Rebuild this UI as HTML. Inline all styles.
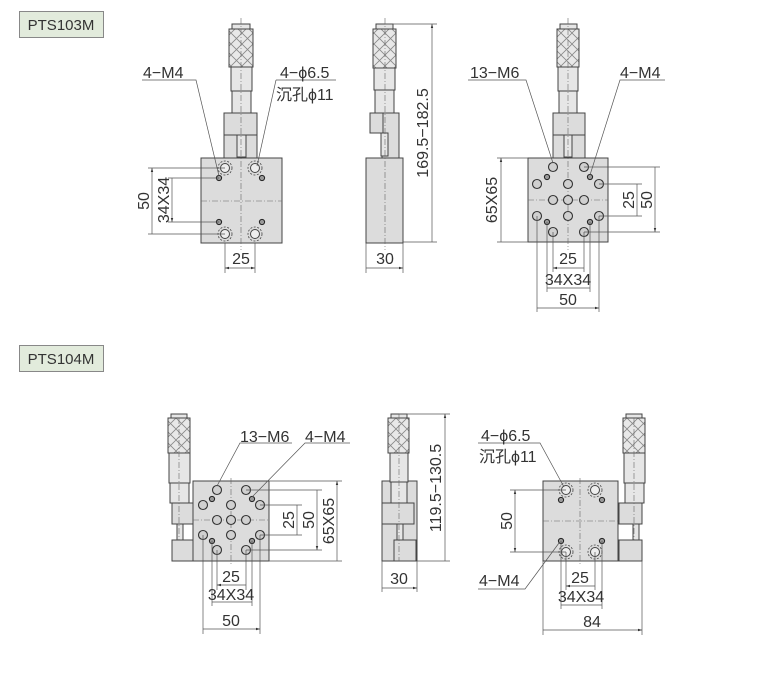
<!DOCTYPE html>
<html><head><meta charset="utf-8"><style>
html,body{margin:0;padding:0;background:#fff;}
svg{display:block;}
text{font-family:"Liberation Sans","Noto Sans CJK SC",sans-serif;fill:#333;}
</style></head><body>
<svg width="763" height="674" viewBox="0 0 763 674" xmlns="http://www.w3.org/2000/svg">
<defs>
<pattern id="kn" x="0" y="0" width="11" height="11" patternUnits="userSpaceOnUse">
<rect width="11" height="11" fill="#e8e8e8"/>
<path d="M0 0L11 11M11 0L0 11" stroke="#888" stroke-width="0.8"/>
</pattern>
<marker id="a" viewBox="0 0 10 10" refX="10" refY="5" markerWidth="6" markerHeight="6" orient="auto-start-reverse"><path d="M0 2L10 5L0 8z" fill="#333"/></marker>
<g id="cb">
<circle cx="0" cy="0" r="7" fill="none" stroke="#444" stroke-dasharray="2 1.5" stroke-width="0.8"/>
<circle cx="0" cy="0" r="4.5" fill="#eee" stroke="#444"/>
</g>
</defs>

<!-- header labels -->
<rect x="19.5" y="11.5" width="84" height="26" fill="#e2ebdc" stroke="#888"/>
<text x="61" y="30" font-size="15" text-anchor="middle">PTS103M</text>
<rect x="19.5" y="345.5" width="84" height="26" fill="#e2ebdc" stroke="#888"/>
<text x="61" y="364" font-size="15" text-anchor="middle">PTS104M</text>

<g stroke="#444" stroke-width="1" fill="#dcdcdc">
<!-- ===== VIEW 1 ===== -->
<rect x="232" y="24" width="18" height="5" fill="#e6e6e6"/>
<rect x="229" y="29" width="24" height="38" fill="url(#kn)"/>
<rect x="231" y="67" width="21" height="24" fill="#e6e6e6"/>
<rect x="232" y="91" width="19" height="22" fill="#e6e6e6"/>
<rect x="224" y="113" width="33" height="22"/>
<rect x="224" y="135" width="33" height="23"/>
<rect x="237" y="135" width="9" height="22" fill="#e6e6e6"/>
<rect x="201" y="158" width="81" height="85"/>
<!-- ===== VIEW 2 ===== -->
<rect x="376" y="24" width="17" height="5" fill="#e6e6e6"/>
<rect x="373" y="29" width="23" height="39" fill="url(#kn)"/>
<rect x="374" y="68" width="21" height="22" fill="#e6e6e6"/>
<rect x="375" y="90" width="19" height="23" fill="#e6e6e6"/>
<rect x="382" y="113" width="17" height="45"/>
<rect x="370" y="113" width="13" height="20"/>
<rect x="381" y="133" width="7" height="23" fill="#e6e6e6"/>
<rect x="366" y="158" width="37" height="85"/>
<!-- ===== VIEW 3 ===== -->
<rect x="560" y="24" width="17" height="5" fill="#e6e6e6"/>
<rect x="557" y="29" width="22" height="38" fill="url(#kn)"/>
<rect x="558" y="67" width="20" height="24" fill="#e6e6e6"/>
<rect x="559" y="91" width="18" height="22" fill="#e6e6e6"/>
<rect x="553" y="113" width="32" height="22"/>
<rect x="553" y="135" width="32" height="23"/>
<rect x="564" y="135" width="8" height="22" fill="#e6e6e6"/>
<rect x="528" y="158" width="80" height="84"/>
<!-- ===== VIEW 4 ===== -->
<rect x="171" y="414" width="16" height="4" fill="#e6e6e6"/>
<rect x="168" y="418" width="22" height="35" fill="url(#kn)"/>
<rect x="169" y="453" width="21" height="30" fill="#e6e6e6"/>
<rect x="170" y="483" width="19" height="20" fill="#e6e6e6"/>
<rect x="172" y="503" width="21" height="21"/>
<rect x="177" y="524" width="6" height="16" fill="#e6e6e6"/>
<rect x="172" y="540" width="21" height="21"/>
<rect x="193" y="481" width="76" height="80"/>
<!-- ===== VIEW 5 ===== -->
<rect x="382" y="481" width="35" height="80"/>
<rect x="391" y="414" width="16" height="4" fill="#e6e6e6"/>
<rect x="388" y="418" width="21" height="35" fill="url(#kn)"/>
<rect x="390" y="453" width="18" height="29" fill="#e6e6e6"/>
<rect x="391" y="482" width="16" height="21" fill="#e6e6e6"/>
<rect x="382" y="503" width="32" height="21"/>
<rect x="397" y="524" width="6" height="16" fill="#e6e6e6"/>
<rect x="394" y="540" width="22" height="21"/>
<!-- ===== VIEW 6 ===== -->
<rect x="626" y="414" width="16" height="4" fill="#e6e6e6"/>
<rect x="623" y="418" width="22" height="35" fill="url(#kn)"/>
<rect x="624" y="453" width="21" height="30" fill="#e6e6e6"/>
<rect x="625" y="483" width="19" height="20" fill="#e6e6e6"/>
<rect x="619" y="503" width="23" height="21"/>
<rect x="633" y="524" width="6" height="16" fill="#e6e6e6"/>
<rect x="619" y="540" width="23" height="21"/>
<rect x="543" y="481" width="75" height="80"/>
</g>

<!-- centre lines -->
<g stroke="#666" stroke-width="0.6" stroke-dasharray="6 2 1 2" fill="none">
<path d="M241 18V250M201 201H282"/>
<path d="M385 18V250"/>
<path d="M568 18V250M528 200H608"/>
<path d="M231 478V565M193 520H269M179 418V540"/>
<path d="M399 414V561"/>
<path d="M580 478V565M543 521H618M634 418V540"/>
</g>

<use href="#cb" x="225" y="168"/><use href="#cb" x="255" y="168"/><use href="#cb" x="225" y="234"/><use href="#cb" x="255" y="234"/>
<use href="#cb" x="566" y="490"/><use href="#cb" x="595" y="490"/><use href="#cb" x="566" y="552"/><use href="#cb" x="595" y="552"/>

<!-- M6 holes -->
<g fill="#d0d0d0" stroke="#333" stroke-width="1.1">
<circle cx="553" cy="167" r="4.5"/><circle cx="584" cy="167" r="4.5"/>
<circle cx="537" cy="184" r="4.5"/><circle cx="568" cy="184" r="4.5"/><circle cx="599" cy="184" r="4.5"/>
<circle cx="553" cy="200" r="4.5"/><circle cx="568" cy="200" r="4.5"/><circle cx="584" cy="200" r="4.5"/>
<circle cx="537" cy="216" r="4.5"/><circle cx="568" cy="216" r="4.5"/><circle cx="599" cy="216" r="4.5"/>
<circle cx="553" cy="232" r="4.5"/><circle cx="584" cy="232" r="4.5"/>
<circle cx="217" cy="490" r="4.5"/><circle cx="246" cy="490" r="4.5"/>
<circle cx="203" cy="505" r="4.5"/><circle cx="231" cy="505" r="4.5"/><circle cx="260" cy="505" r="4.5"/>
<circle cx="217" cy="520" r="4.5"/><circle cx="231" cy="520" r="4.5"/><circle cx="246" cy="520" r="4.5"/>
<circle cx="203" cy="535" r="4.5"/><circle cx="231" cy="535" r="4.5"/><circle cx="260" cy="535" r="4.5"/>
<circle cx="217" cy="550" r="4.5"/><circle cx="246" cy="550" r="4.5"/>
</g>
<!-- M4 holes -->
<g fill="#999" stroke="#222" stroke-width="1">
<circle cx="219" cy="178" r="2.6"/><circle cx="262" cy="178" r="2.6"/><circle cx="219" cy="222" r="2.6"/><circle cx="262" cy="222" r="2.6"/>
<circle cx="547" cy="177" r="2.6"/><circle cx="590" cy="177" r="2.6"/><circle cx="547" cy="222" r="2.6"/><circle cx="590" cy="222" r="2.6"/>
<circle cx="212" cy="499" r="2.6"/><circle cx="252" cy="499" r="2.6"/><circle cx="212" cy="541" r="2.6"/><circle cx="252" cy="541" r="2.6"/>
<circle cx="561" cy="500" r="2.6"/><circle cx="602" cy="500" r="2.6"/><circle cx="561" cy="541" r="2.6"/><circle cx="602" cy="541" r="2.6"/>
</g>

<!-- dimension & extension lines -->
<g stroke="#555" stroke-width="0.7" fill="none">
<path d="M148 168H225M148 234H225M168 178H219M168 222H219"/>
<path d="M152 168V234M172 178V222" marker-start="url(#a)" marker-end="url(#a)"/>
<path d="M225 243V273M255 243V273"/>
<path d="M225 268H255" marker-start="url(#a)" marker-end="url(#a)"/>
<path d="M142 80H196L219 176M276 80H336M276 80L257 166"/>
<path d="M385 24H437M403 242H437M366 243V273M403 243V273"/>
<path d="M432 24V242M366 268H403" marker-start="url(#a)" marker-end="url(#a)"/>
<path d="M497 158H528M497 242H528M599 184H642M599 216H642M584 167H660M584 232H660"/>
<path d="M501 158V242M637 184V216M655 167V232" marker-start="url(#a)" marker-end="url(#a)"/>
<path d="M537 216V312M547 222V292M553 232V272M584 232V272M590 222V292M599 216V312"/>
<path d="M553 268H584M547 288H590M537 308H599" marker-start="url(#a)" marker-end="url(#a)"/>
<path d="M468 80H526L553 163M665 80H620L590 175"/>
<path d="M269 481H342M269 561H342M260 505H302M260 535H302M246 490H322M246 550H322"/>
<path d="M337 481V561M297 505V535M317 490V550" marker-start="url(#a)" marker-end="url(#a)"/>
<path d="M203 535V634M212 541V606M217 550V590M246 550V590M252 541V606M260 535V634"/>
<path d="M217 585H246M212 602H252M203 629H260" marker-start="url(#a)" marker-end="url(#a)"/>
<path d="M292 443H240L217 486M350 443H305L252 497"/>
<path d="M399 414H450M417 561H450M382 561V592M417 561V592"/>
<path d="M445 414V561M382 588H417" marker-start="url(#a)" marker-end="url(#a)"/>
<path d="M510 490H566M510 552H566"/>
<path d="M515 490V552" marker-start="url(#a)" marker-end="url(#a)"/>
<path d="M543 561V635M642 561V635M561 541V609M602 541V609M566 552V590M595 552V590"/>
<path d="M566 586H595M561 605H602M543 630H642" marker-start="url(#a)" marker-end="url(#a)"/>
<path d="M478 443H540L564 487M478 589H525L559 543"/>
</g>

<!-- labels -->
<g font-size="16">
<text x="143" y="78">4−M4</text>
<text x="280" y="78">4−ϕ6.5</text>
<text x="276" y="100">沉孔ϕ11</text>
<text x="470" y="78">13−M6</text>
<text x="620" y="78">4−M4</text>
<text x="241" y="264" text-anchor="middle">25</text>
<text x="385" y="264" text-anchor="middle">30</text>
<text x="568" y="264" text-anchor="middle">25</text>
<text x="568" y="285" text-anchor="middle">34X34</text>
<text x="568" y="305" text-anchor="middle">50</text>
<text transform="translate(149,201) rotate(-90)" text-anchor="middle">50</text>
<text transform="translate(169,200) rotate(-90)" text-anchor="middle">34X34</text>
<text transform="translate(428,133) rotate(-90)" text-anchor="middle">169.5−182.5</text>
<text transform="translate(497,200) rotate(-90)" text-anchor="middle">65X65</text>
<text transform="translate(634,200) rotate(-90)" text-anchor="middle">25</text>
<text transform="translate(652,200) rotate(-90)" text-anchor="middle">50</text>

<text x="240" y="442">13−M6</text>
<text x="305" y="442">4−M4</text>
<text x="231" y="582" text-anchor="middle">25</text>
<text x="231" y="600" text-anchor="middle">34X34</text>
<text x="231" y="626" text-anchor="middle">50</text>
<text transform="translate(294,520) rotate(-90)" text-anchor="middle">25</text>
<text transform="translate(314,520) rotate(-90)" text-anchor="middle">50</text>
<text transform="translate(334,521) rotate(-90)" text-anchor="middle">65X65</text>
<text transform="translate(441,488) rotate(-90)" text-anchor="middle">119.5−130.5</text>
<text x="399" y="584" text-anchor="middle">30</text>
<text x="481" y="441">4−ϕ6.5</text>
<text x="479" y="462">沉孔ϕ11</text>
<text x="479" y="586">4−M4</text>
<text transform="translate(512,521) rotate(-90)" text-anchor="middle">50</text>
<text x="580" y="583" text-anchor="middle">25</text>
<text x="581" y="602" text-anchor="middle">34X34</text>
<text x="592" y="627" text-anchor="middle">84</text>
</g>
</svg>
</body></html>
